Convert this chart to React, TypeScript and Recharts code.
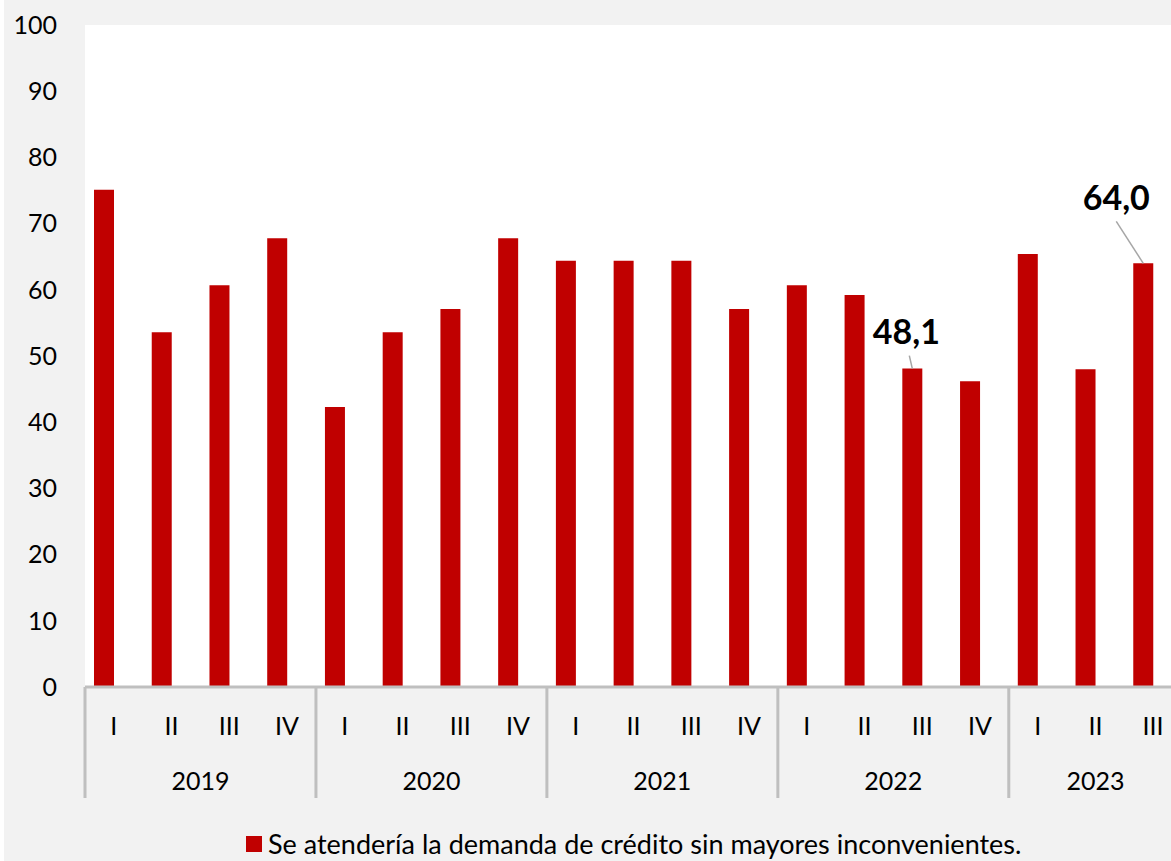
import { BarChart, Bar, XAxis, YAxis, CartesianGrid, LabelList } from "recharts";

const quarters = ["I", "II", "III", "IV", "I", "II", "III", "IV", "I", "II", "III", "IV", "I", "II", "III", "IV", "I", "II", "III"];
const years = ["2019", "2019", "2019", "2019", "2020", "2020", "2020", "2020", "2021", "2021", "2021", "2021", "2022", "2022", "2022", "2022", "2023", "2023", "2023"];
const values = [75.1, 53.6, 60.7, 67.8, 42.3, 53.6, 57.1, 67.8, 64.4, 64.4, 64.4, 57.1, 60.7, 59.2, 48.1, 46.2, 65.4, 48.0, 64.0];
const yTicks = [0, 10, 20, 30, 40, 50, 60, 70, 80, 90, 100];
const legendLabel = "Se atendería la demanda de crédito sin mayores inconvenientes.";

// which bars get a callout, and where the text sits relative to the bar top
const callouts: Record<number, { dx: number; dy: number; lx: number; ly: number }> = {
  14: { dx: -6, dy: -38, lx: -3, ly: -13 },
  18: { dx: -27, dy: -67, lx: -27, ly: -42 },
};

const data = quarters.map((q, i) => ({ q, year: years[i], value: values[i] }));

const FONT = "Lato, 'Gill Sans', 'DejaVu Sans', sans-serif";
const RED = "#c00000";
const CHART_W = 1182;
const Y_W = 85;
const BAND = (CHART_W - Y_W) / data.length;

const QuarterTick = (props: any) => {
  const { x, y, payload } = props;
  const i = payload.index ?? props.index;
  const year = data[i].year;
  const first = i === 0 || data[i - 1].year !== year;
  const count = data.filter((d) => d.year === year).length;
  return (
    <g>
      <text x={x} y={y + 38} textAnchor="middle" dominantBaseline="central" fontSize={25} fill="#000" fontFamily={FONT}>
        {payload.value}
      </text>
      {first && (
        <>
          <line x1={x - BAND / 2} x2={x - BAND / 2} y1={y} y2={y + 111} stroke="#bfbfbf" strokeWidth={3} />
          <text x={x + ((count - 1) / 2) * BAND} y={y + 93} textAnchor="middle" dominantBaseline="central" fontSize={25} fill="#000" fontFamily={FONT}>
            {year}
          </text>
        </>
      )}
    </g>
  );
};

const Callout = (props: any) => {
  const { x, y, width, value, index } = props;
  const c = callouts[index];
  if (!c) return null;
  const cx = x + width / 2;
  return (
    <g>
      <line x1={cx + c.lx} y1={y + c.ly} x2={cx} y2={y} stroke="#a6a6a6" strokeWidth={1.5} />
      <text x={cx + c.dx} y={y + c.dy} textAnchor="middle" dominantBaseline="central" fontSize={34} fontWeight={700} fill="#000" fontFamily={FONT}>
        {Number(value).toFixed(1).replace(".", ",")}
      </text>
    </g>
  );
};

export default function App() {
  return (
    <div style={{ position: "absolute", left: 0, top: 0, width: 1171, height: 861, overflow: "hidden", background: "#f2f2f2", fontFamily: FONT }}>
      <div style={{ position: "absolute", left: 0, top: 0, width: 4, height: 861, background: "#fff" }} />
      <BarChart width={CHART_W} height={800} data={data} margin={{ top: 25, right: 0, left: 0, bottom: 0 }} barGap={0}>
        <CartesianGrid fill="#ffffff" stroke="none" horizontal={false} vertical={false} />
        <XAxis dataKey="q" interval={0} height={113} tickSize={0} tickMargin={0} tickLine={false} axisLine={{ stroke: "#bfbfbf", strokeWidth: 3 }} tick={<QuarterTick />} />
        <YAxis domain={[0, 100]} ticks={yTicks} interval={0} width={Y_W} tickSize={0} tickMargin={28} tickLine={false} axisLine={false} tick={{ fontSize: 25, fill: "#000", fontFamily: FONT }} />
        <Bar dataKey="value" fill={RED} barSize={20} isAnimationActive={false}>
          <LabelList dataKey="value" content={<Callout />} />
        </Bar>
        <Bar dataKey="spacer" fill="none" barSize={20} legendType="none" isAnimationActive={false} />
      </BarChart>
      <div style={{ position: "absolute", left: 246, top: 831, display: "flex", alignItems: "center", fontSize: 27, lineHeight: "26px", color: "#000", whiteSpace: "nowrap" }}>
        <span style={{ display: "inline-block", width: 16, height: 16, background: RED, marginRight: 6 }} />
        {legendLabel}
      </div>
    </div>
  );
}
